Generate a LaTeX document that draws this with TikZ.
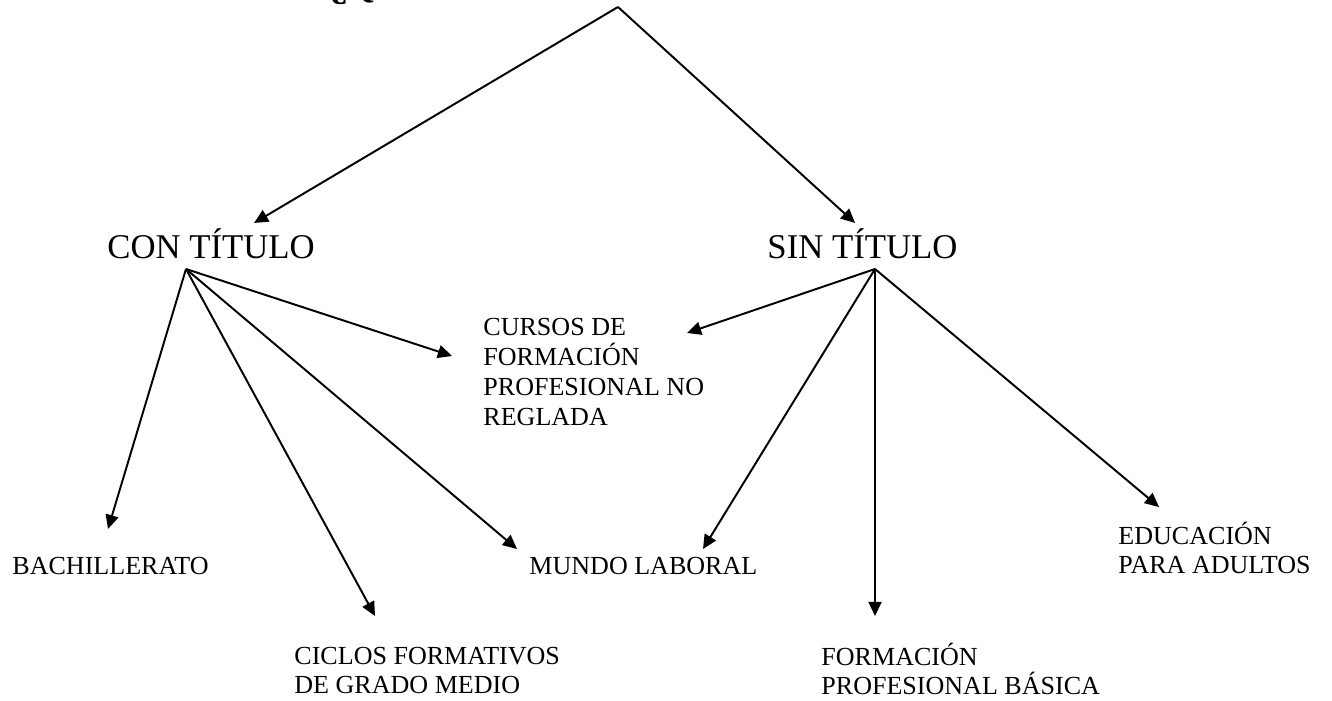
\documentclass[tikz,border=0pt]{standalone}
\usepackage{fontspec}
\setmainfont{Liberation Serif}
\usetikzlibrary{arrows.meta}
\tikzset{
  px/.style={x=0.4608pt,y=-0.4608pt},
  big/.style={font=\fontsize{16}{18.4}\selectfont,inner sep=0pt,anchor=base west},
  small/.style={font=\fontsize{12}{13.8}\selectfont,inner sep=0pt,anchor=base west},
  conn/.style={line width=0.9pt},
  arr/.style={line width=0.9pt,-{Triangle[length=6.5pt,width=6pt]}}
}
\begin{document}
\begin{tikzpicture}[px]
\useasboundingbox (0,0) rectangle (1332,701);
\clip (0,0) rectangle (1332,701);
\fill[white] (0,0) rectangle (1332,701);
% title (cut off at the top edge)
\node[font=\fontsize{16}{18.4}\selectfont\bfseries,inner sep=0pt,anchor=base west] (title) at (330,-2) {¿Q};
% main nodes
\node[big] (con) at (107,259) {CON TÍTULO};
\node[big] (sin) at (767,259) {SIN TÍTULO};
\node[small] (cursos) at (483,336) {\vtop{\baselineskip=13.8pt\hbox{CURSOS DE}\hbox{FORMACIÓN}\hbox{PROFESIONAL NO}\hbox{REGLADA}}};
\node[small] (bach) at (12,574) {BACHILLERATO};
\node[small] (mundo) at (529,574) {MUNDO LABORAL};
\node[small] (edu) at (1118,544) {\vtop{\baselineskip=13.8pt\hbox{EDUCACIÓN}\hbox{PARA ADULTOS}}};
\node[small] (ciclos) at (294,664) {\vtop{\baselineskip=13.8pt\hbox{CICLOS FORMATIVOS}\hbox{DE GRADO MEDIO}}};
\node[small] (fpb) at (821,665) {\vtop{\baselineskip=13.8pt\hbox{FORMACIÓN}\hbox{PROFESIONAL BÁSICA}}};
% junction points
\coordinate (apex) at (618,7);
\coordinate (conO) at (186,269);
\coordinate (sinO) at (875,269);
% arrow end points
\coordinate (conT) at (254,223);
\coordinate (sinT) at (855,223);
\coordinate (bachT) at (108,529);
\coordinate (ciclosT) at (375,616);
\coordinate (mundoTa) at (517,549);
\coordinate (cursosTa) at (452,356);
\coordinate (cursosTb) at (687,333);
\coordinate (mundoTb) at (703,549);
\coordinate (fpbT) at (875,616);
\coordinate (eduT) at (1159,507);
% connectors
\draw[arr] (apex) -- (conT);
\draw[arr] (apex) -- (sinT);
\draw[arr] (conO) -- (bachT);
\draw[arr] (conO) -- (ciclosT);
\draw[arr] (conO) -- (mundoTa);
\draw[arr] (conO) -- (cursosTa);
\draw[arr] (sinO) -- (cursosTb);
\draw[arr] (sinO) -- (mundoTb);
\draw[arr] (sinO) -- (fpbT);
\draw[arr] (sinO) -- (eduT);
\end{tikzpicture}
\end{document}
